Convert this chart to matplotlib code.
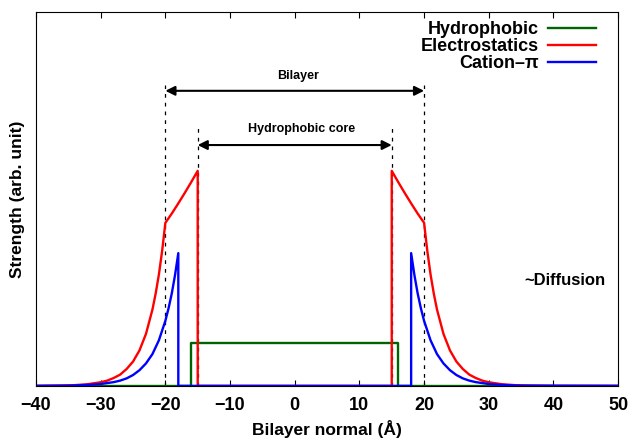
import matplotlib
matplotlib.use('Agg')
import matplotlib.pyplot as plt

plt.rcParams['font.family'] = ['Liberation Sans', 'DejaVu Sans']
plt.rcParams['font.weight'] = 'bold'
plt.rcParams['axes.labelweight'] = 'bold'

# values (arbitrary units, 0 = baseline, 1 = top of axes)
hydro_x = [-40, -16, -16, 16, 16, 50]
hydro_y = [0, 0, 0.115, 0.115, 0, 0]

elec_x = [-40, -36, -34, -32, -30, -29, -28, -27, -26, -25, -24, -23, -22, -21.5, -21, -20.5,
          -20, -19, -18, -17, -16, -15, -15,
          15, 15, 16, 17, 18, 19, 20,
          20.5, 21, 21.5, 22, 23, 24, 25, 26, 27, 28, 29, 30, 32, 34, 36, 40, 50]
elec_y = [0, 0.001, 0.002, 0.0045, 0.0097, 0.014, 0.021, 0.030, 0.045, 0.065, 0.095, 0.139, 0.204, 0.247, 0.298, 0.361,
          0.436, 0.461, 0.488, 0.516, 0.545, 0.575, 0,
          0, 0.575, 0.545, 0.516, 0.488, 0.461, 0.436,
          0.361, 0.298, 0.247, 0.204, 0.139, 0.095, 0.065, 0.045, 0.030, 0.021, 0.014, 0.0097, 0.0045, 0.002, 0.001, 0, 0]

cat_x = [-40, -35, -32, -30, -28, -27, -26, -25, -24, -23, -22, -21, -20, -19.5, -19, -18.5, -18, -18,
         18, 18, 18.5, 19, 19.5, 20, 21, 22, 23, 24, 25, 26, 27, 28, 30, 32, 35, 50]
cat_y = [0, 0.0006, 0.0024, 0.005, 0.010, 0.014, 0.020, 0.029, 0.042, 0.060, 0.085, 0.122, 0.174, 0.208, 0.248, 0.297, 0.355, 0,
         0, 0.355, 0.297, 0.248, 0.208, 0.174, 0.122, 0.085, 0.060, 0.042, 0.029, 0.020, 0.014, 0.010, 0.005, 0.0024, 0.0006, 0]

fig = plt.figure(figsize=(6.32, 4.41), dpi=100)
ax = fig.add_axes([0.057, 0.125, 0.921, 0.848])

# bilayer boundaries
for xv in (-20, 20):
    ax.plot([xv, xv], [0, 0.805], 'k--', lw=0.9, dashes=(3, 4))
for xv in (-15, 15):
    ax.plot([xv, xv], [0, 0.698], 'k--', lw=0.9, dashes=(3, 4))

ax.plot(hydro_x, hydro_y, color='#006400', lw=1.7, label='Hydrophobic')
ax.plot(elec_x, elec_y, color='red', lw=1.7, label='Electrostatics')
ax.plot(cat_x, cat_y, color='blue', lw=1.7, label='Cation\u2013\u03c0')

ax.annotate('', xy=(-20, 0.789), xytext=(20, 0.789),
            arrowprops=dict(arrowstyle='<|-|>', color='black', lw=1.5, mutation_scale=14, shrinkA=0, shrinkB=0))
ax.text(0.5, 0.812, 'Bilayer', ha='center', va='bottom', fontsize=9)
ax.annotate('', xy=(-15, 0.644), xytext=(15, 0.644),
            arrowprops=dict(arrowstyle='<|-|>', color='black', lw=1.5, mutation_scale=14, shrinkA=0, shrinkB=0))
ax.text(1, 0.67, 'Hydrophobic core', ha='center', va='bottom', fontsize=9)

ax.text(35.5, 0.283, '~Diffusion', ha='left', va='center', fontsize=12)

ax.set_xlim(-40, 50)
ax.set_ylim(0, 1)
ax.set_xticks(range(-40, 51, 10))
ax.set_yticks([])
ax.tick_params(axis='x', direction='in', top=True, labelsize=13, length=4, pad=8)
ax.set_xlabel('Bilayer normal (\u00c5)', fontsize=12.5, labelpad=4)
ax.set_ylabel('Strength (arb. unit)', fontsize=12.5, labelpad=8)

ax.legend(loc='upper right', frameon=False, markerfirst=False, fontsize=13,
          handlelength=2.7, labelspacing=0.0, borderaxespad=0.1, handletextpad=0.5,
          alignment='right', bbox_to_anchor=(0.978, 1.0))

fig.savefig('out.png', dpi=100)
